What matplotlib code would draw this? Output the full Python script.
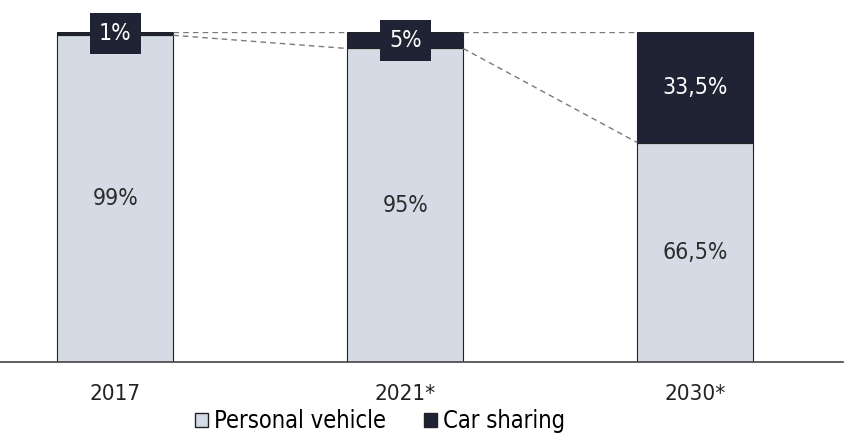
import matplotlib.pyplot as plt
from matplotlib.patches import Patch

plt.rcParams['font.family'] = ['DejaVu Sans']
plt.rcParams['font.stretch'] = 'condensed'

years = ["2017", "2021*", "2030*"]
personal = [99, 95, 66.5]
sharing = [1, 5, 33.5]
personal_labels = ["99%", "95%", "66,5%"]
sharing_labels = ["1%", "5%", "33,5%"]

light = '#d5dbe5'
dark = '#1f2334'
w = 0.4

fig = plt.figure(figsize=(8.46, 4.40), dpi=100)
ax = fig.add_axes([0, 78 / 440, 843 / 846, 330 / 440])

x = list(range(len(years)))
ax.bar(x, personal, w, color=light, edgecolor='#222222', linewidth=0.8)
ax.bar(x, sharing, w, bottom=personal, color=dark, edgecolor='#222222', linewidth=0.8)

# dashed connectors between neighbouring bars
for i in range(len(years) - 1):
    x0, x1 = x[i] + w / 2, x[i + 1] - w / 2
    ax.plot([x0, x1], [personal[i] + sharing[i], personal[i + 1] + sharing[i + 1]],
            color='#7a7a7a', lw=1, dashes=(4, 3))
    ax.plot([x0, x1], [personal[i], personal[i + 1]],
            color='#7a7a7a', lw=1, dashes=(4, 3))

for i in x:
    ax.text(i, personal[i] / 2, personal_labels[i], ha='center', va='center',
            fontsize=16.5, color='#2b2b2b')
    yc = personal[i] + sharing[i] / 2
    if sharing[i] < 10:
        ax.text(i, yc, sharing_labels[i], ha='center', va='center', fontsize=16.5,
                color='white', bbox=dict(boxstyle='square,pad=0.4', fc=dark, ec='none'))
    else:
        ax.text(i, yc, sharing_labels[i], ha='center', va='center', fontsize=16.5,
                color='white')

ax.set_xlim(-0.397, 2.509)
ax.set_ylim(0, 100)
ax.set_xticks(x)
ax.set_xticklabels(years, fontsize=16, color='#222222')
ax.tick_params(axis='x', length=0, pad=16)
ax.set_yticks([])
for s in ['top', 'right', 'left']:
    ax.spines[s].set_visible(False)
ax.spines['bottom'].set_color('#444444')
ax.spines['bottom'].set_linewidth(1.2)

handles = [Patch(facecolor=light, edgecolor='#222222', label='Personal vehicle'),
           Patch(facecolor=dark, edgecolor='#222222', label='Car sharing')]
fig.legend(handles=handles, loc='center', bbox_to_anchor=(380 / 846, 1 - 421 / 440),
           ncol=2, frameon=False, fontsize=17, handlelength=0.55, handleheight=0.55,
           handletextpad=0.25, columnspacing=1.6, borderpad=0)

fig.savefig('out.png', dpi=100)
